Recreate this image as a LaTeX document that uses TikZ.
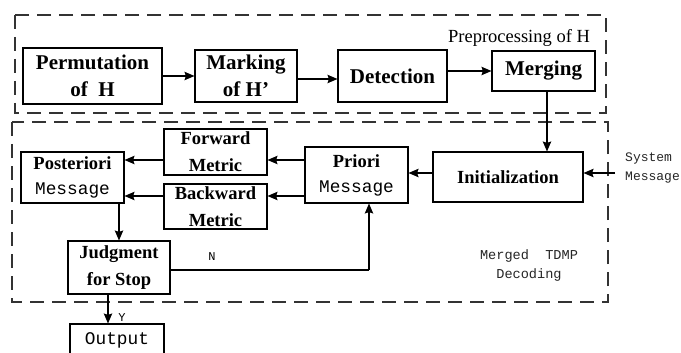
\documentclass[tikz,border=0pt]{standalone}
\usepackage{fontspec}
\setmainfont{Liberation Serif}
\newfontfamily\monof{Liberation Mono}
\usetikzlibrary{arrows.meta}

\tikzset{
  blk/.style={draw, line width=1.1pt, inner sep=0pt, align=center, anchor=center},
  bigtxt/.style={font=\bfseries\fontsize{21}{27}\selectfont},
  smalltxt/.style={font=\bfseries\fontsize{18.5}{27}\selectfont},
  mixtxt/.style={font=\fontsize{18.5}{25}\selectfont},
  region/.style={draw=black!80, line width=1.1pt, dash pattern=on 14pt off 8pt},
  arr/.style={line width=1.1pt, -{Stealth[length=10pt,width=8.5pt,inset=1.5pt]}},
  conn/.style={line width=1.1pt},
  note/.style={font=\monof\fontsize{13.6}{19}\selectfont, align=center, text=black!85},
}

\begin{document}
\begin{tikzpicture}[x=1pt,y=-1pt]
  \clip (0,0) rectangle (681,353);
  \fill[white] (0,0) rectangle (681,353);

  % dashed regions
  \draw[region] (15,15) rectangle (606,113);
  \draw[region] (12,122) rectangle (608,302);

  % preprocessing row
  \node[blk, bigtxt, minimum width=139pt, minimum height=56pt] (perm) at (92.5,76) {Permutation\\of~~H};
  \node[blk, bigtxt, minimum width=102pt, minimum height=52pt] (mark) at (246,76) {Marking\\of H’};
  \node[blk, bigtxt, minimum width=109pt, minimum height=52pt] (det) at (392.5,76) {Detection};
  \node[blk, bigtxt, minimum width=103pt, minimum height=40pt] (merge) at (543.5,71) {Merging};
  \node[font=\fontsize{18.5}{22}\selectfont] (pre) at (519,38) {Preprocessing of H};

  % decoding part
  \node[blk, smalltxt, minimum width=150pt, minimum height=50pt] (init) at (508,177) {Initialization};
  \node[blk, mixtxt, minimum width=103pt, minimum height=56pt] (pri) at (356.5,175)
    {{\bfseries Priori}\\{\monof\fontsize{17.8}{25}\selectfont Message}};
  \node[blk, smalltxt, minimum width=103pt, minimum height=46pt] (fwd) at (215.5,152) {Forward\\Metric};
  \node[blk, smalltxt, minimum width=103pt, minimum height=45pt] (bwd) at (215.5,206.5) {Backward\\Metric};
  \node[blk, mixtxt, minimum width=103pt, minimum height=51pt] (post) at (72.5,177.5)
    {{\bfseries Posteriori}\\{\monof\fontsize{17.8}{25}\selectfont Message}};
  \node[blk, smalltxt, minimum width=102pt, minimum height=53pt] (judge) at (119,267.5) {Judgment\\for Stop};
  \node[blk, font=\monof\fontsize{17.8}{22}\selectfont, minimum width=94pt, minimum height=32pt] (out) at (117,340) {Output};

  \node[note, font=\monof\fontsize{13}{19}\selectfont, align=left, anchor=west, inner sep=0pt] (sys) at (625,168) {System\\Message};
  \node[note] (mtd) at (529,265) {Merged~~TDMP\\Decoding};
  \node[font=\monof\fontsize{12}{14}\selectfont] (nlab) at (212,257) {N};
  \node[font=\monof\fontsize{12}{14}\selectfont] (ylab) at (122,318) {Y};

  % connectors of the first row
  \draw[arr] (perm.east) -- (perm.east -| mark.west);
  \coordinate (mk) at ([yshift=-3pt]mark.east);
  \draw[arr] (mk) -- (mk -| det.west);
  \draw[arr] (det.east |- merge.west) -- (merge.west);

  % merging down to initialization
  \coordinate (md) at ([xshift=3.5pt]merge.south);
  \draw[arr] (md) -- (md |- init.north);

  % system message into initialization
  \coordinate (sin) at (615,173);
  \draw[arr] (sin) -- (sin -| init.east);

  % initialization to priori
  \coordinate (ip) at ([yshift=4pt]init.west);
  \draw[arr] (ip) -- (ip -| pri.east);

  % priori to the metrics, metrics to posteriori
  \coordinate (fa) at ([yshift=-8pt]fwd.east);
  \coordinate (ba) at ([yshift=10.5pt]bwd.east);
  \draw[arr] (fa -| pri.west) -- (fa);
  \draw[arr] (ba -| pri.west) -- (ba);
  \draw[arr] (fa -| fwd.west) -- (fa -| post.east);
  \draw[arr] (ba -| bwd.west) -- (ba -| post.east);

  % posteriori to judgment
  \draw[arr] (judge.north |- post.south) -- (judge.north);

  % feedback (N) to priori
  \coordinate (nb) at ([xshift=12.5pt]pri.south);
  \coordinate (jn) at ([yshift=-2.5pt]judge.east);
  \draw[conn] (jn) -- (jn -| nb);
  \draw[arr] (jn -| nb) -- (nb);

  % output (Y)
  \coordinate (jy) at ([xshift=-11pt]judge.south);
  \draw[arr] (jy) -- (jy |- out.north);
\end{tikzpicture}
\end{document}
